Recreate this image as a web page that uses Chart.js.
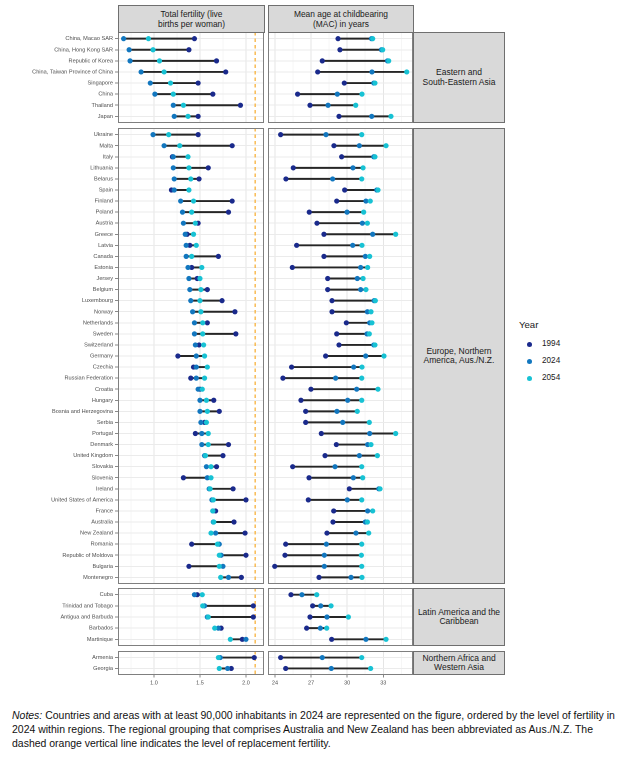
<!DOCTYPE html>
<html><head><meta charset="utf-8">
<script src="https://cdn.jsdelivr.net/npm/chart.js@4/dist/chart.umd.min.js"></script>
<style>
body{margin:0;background:#fff;width:627px;height:759px;position:relative;overflow:hidden;font-family:"Liberation Sans",Arial,sans-serif;}
canvas{position:absolute}
.strip{position:absolute;background:#d9d9d9;border:1px solid #6f6f6f;box-sizing:border-box;display:flex;align-items:center;justify-content:center;text-align:center;color:#1a1a1a}
.note{position:absolute;left:12px;white-space:nowrap;color:#111;line-height:14px}
.lg{position:absolute;white-space:nowrap;color:#1a1a1a}
.dot{position:absolute;width:5px;height:5px;border-radius:50%}
</style></head><body>
<script>
// ---------------- DATA ----------------
const yearLabels = ["1994", "2024", "2054"];
const replacementFertility = 2.1;

const eaCountries = ["China, Macao SAR","China, Hong Kong SAR","Republic of Korea","China, Taiwan Province of China","Singapore","China","Thailand","Japan"];
const eaTfr1994 = [1.44,1.38,1.68,1.78,1.48,1.64,1.94,1.48];
const eaTfr2024 = [0.67,0.73,0.74,0.86,0.96,1.01,1.21,1.22];
const eaTfr2054 = [0.94,0.99,1.06,1.11,1.18,1.21,1.32,1.37];
const eaMac1994 = [29.24,29.40,27.93,27.55,29.76,25.88,26.91,29.32];
const eaMac2024 = [32.02,32.85,33.35,32.06,32.21,29.18,28.41,32.04];
const eaMac2054 = [32.12,32.95,33.45,34.95,32.31,31.23,30.71,33.64];

const euCountries = ["Ukraine","Malta","Italy","Lithuania","Belarus","Spain","Finland","Poland","Austria","Greece","Latvia","Canada","Estonia","Jersey","Belgium","Luxembourg","Norway","Netherlands","Sweden","Switzerland","Germany","Czechia","Russian Federation","Croatia","Hungary","Bosnia and Herzegovina","Serbia","Portugal","Denmark","United Kingdom","Slovakia","Slovenia","Ireland","United States of America","France","Australia","New Zealand","Romania","Republic of Moldova","Bulgaria","Montenegro"];
const euTfr1994 = [1.48,1.85,1.20,1.59,1.49,1.19,1.85,1.81,1.48,1.36,1.39,1.70,1.41,1.47,1.58,1.74,1.88,1.58,1.89,1.49,1.26,1.43,1.40,1.50,1.65,1.71,1.55,1.45,1.81,1.75,1.68,1.32,1.86,2.00,1.67,1.87,1.99,1.41,2.00,1.38,1.95];
const euTfr2024 = [0.99,1.11,1.21,1.21,1.22,1.22,1.29,1.31,1.32,1.34,1.35,1.35,1.37,1.38,1.39,1.40,1.42,1.44,1.44,1.45,1.46,1.46,1.46,1.48,1.50,1.50,1.51,1.52,1.52,1.55,1.57,1.58,1.60,1.63,1.64,1.645,1.67,1.71,1.73,1.75,1.81];
const euTfr2054 = [1.16,1.28,1.37,1.38,1.40,1.38,1.43,1.41,1.45,1.43,1.46,1.41,1.52,1.50,1.51,1.50,1.51,1.53,1.53,1.54,1.55,1.58,1.55,1.525,1.57,1.58,1.57,1.59,1.59,1.56,1.62,1.62,1.61,1.645,1.64,1.65,1.62,1.69,1.71,1.71,1.725];
const euMac1994 = [24.47,28.90,29.54,25.52,24.91,29.79,29.13,26.85,27.49,28.07,25.80,28.07,25.44,28.38,28.38,28.74,28.74,29.93,29.13,29.32,28.21,25.38,24.66,26.99,26.16,26.55,26.55,27.85,29.10,28.16,25.47,26.83,30.18,26.77,28.88,28.82,28.32,24.89,24.83,23.98,27.66];
const euMac2024 = [28.24,31.01,32.21,30.48,28.79,32.46,31.56,29.99,31.26,32.12,30.46,31.51,31.12,30.84,31.12,32.24,31.68,31.87,31.65,32.21,31.54,30.54,29.04,30.79,30.04,29.15,29.63,31.87,31.70,31.01,28.99,30.51,32.63,30.01,31.70,31.51,30.73,28.27,28.10,28.10,30.32];
const euMac2054 = [31.21,33.23,32.31,31.32,31.21,32.56,31.92,31.37,31.68,34.03,31.23,31.87,31.70,31.32,31.56,32.34,31.98,32.06,31.84,32.31,33.06,31.23,31.21,32.56,31.21,30.84,31.84,34.03,31.98,32.51,31.21,31.29,32.73,31.21,32.12,31.68,31.79,31.21,31.18,31.21,31.23];

const laCountries = ["Cuba","Trinidad and Tobago","Antigua and Barbuda","Barbados","Martinique"];
const laTfr1994 = [1.47,2.08,2.08,1.73,1.96];
const laTfr2024 = [1.44,1.55,1.58,1.70,2.00];
const laTfr2054 = [1.525,1.53,1.59,1.66,1.83];
const laMac1994 = [25.33,27.13,26.91,26.63,28.71];
const laMac2024 = [26.24,27.80,28.32,27.77,31.56];
const laMac2054 = [27.47,28.66,30.10,28.30,33.23];

const nwCountries = ["Armenia","Georgia"];
const nwTfr1994 = [2.09,1.84];
const nwTfr2024 = [1.72,1.80];
const nwTfr2054 = [1.70,1.71];
const nwMac1994 = [24.47,24.89];
const nwMac2024 = [27.93,28.68];
const nwMac2054 = [31.21,31.95];

const regionNames = [["Eastern and","South-Eastern Asia"],["Europe, Northern","America, Aus./N.Z."],["Latin America and the","Caribbean"],["Northern Africa and","Western Asia"]];
const columnTitles = [["Total fertility (live","births per woman)"],["Mean age at childbearing","(MAC) in years"]];
const tfrTicks = [1.0, 1.5, 2.0];
const macTicks = [24, 27, 30, 33];

// ---------------- LAYOUT / STYLE ----------------
const facets = [
  {names: eaCountries, tfr: [eaTfr1994, eaTfr2024, eaTfr2054], mac: [eaMac1994, eaMac2024, eaMac2054]},
  {names: euCountries, tfr: [euTfr1994, euTfr2024, euTfr2054], mac: [euMac1994, euMac2024, euMac2054]},
  {names: laCountries, tfr: [laTfr1994, laTfr2024, laTfr2054], mac: [laMac1994, laMac2024, laMac2054]},
  {names: nwCountries, tfr: [nwTfr1994, nwTfr2024, nwTfr2054], mac: [nwMac1994, nwMac2024, nwMac2054]}
];
const boxes = [{top:32,h:91},{top:128,h:456},{top:588,h:58},{top:651,h:24}];
const COLORS = ["#1a2a8c", "#1277bf", "#17c2d4"];
const SEG = "#262626";
const ORANGE = "#f7b13a";
const FONT = "'Liberation Sans', Arial, sans-serif";
Chart.defaults.font.family = FONT;

const frame = {id:'frame', afterDraw(chart){
  const {ctx, chartArea:a} = chart;
  ctx.save(); ctx.strokeStyle = '#7f7f7f'; ctx.lineWidth = 1;
  ctx.strokeRect(a.left + 0.5, a.top + 0.5, a.right - a.left - 1, a.bottom - a.top - 1);
  ctx.restore();
}};

function isMajor(v, list){ return list.some(t => Math.abs(t - v) < 1e-6); }

function makePanel(fi, isLeft){
  const f = facets[fi], b = boxes[fi];
  const bottom = fi === facets.length - 1;
  const axisH = bottom ? 16 : 0;
  const cx = isLeft ? 0 : 268, cw = isLeft ? 264 : 145, ch = b.h + axisH;
  const cv = document.createElement('canvas');
  cv.style.left = cx + 'px'; cv.style.top = b.top + 'px';
  cv.style.width = cw + 'px'; cv.style.height = ch + 'px';
  cv.width = cw; cv.height = ch;
  document.body.appendChild(cv);
  const n = f.names.length;
  const vals = isLeft ? f.tfr : f.mac;
  const idx = f.names.map((_, i) => i);
  const majors = isLeft ? tfrTicks : macTicks;
  const datasets = [
    {type:'bar', indexAxis:'y', order:5, backgroundColor: SEG, barThickness: 1.3,
     data: idx.map(i => ({y: i, x: [Math.min(vals[0][i], vals[1][i], vals[2][i]), Math.max(vals[0][i], vals[1][i], vals[2][i])]}))}
  ];
  vals.forEach((arr, k) => datasets.push({
    type:'scatter', label: yearLabels[k], order: 3 - k,
    data: idx.map(i => ({x: arr[i], y: i})),
    pointRadius: 2.6, pointBackgroundColor: COLORS[k], pointBorderWidth: 0, pointHoverRadius: 2.6
  }));
  if (isLeft) datasets.push({type:'scatter', order:4, showLine:true, borderColor: ORANGE, borderWidth:1.3, borderDash:[3.5,3], pointRadius:0,
    data:[{x: replacementFertility, y: -0.6}, {x: replacementFertility, y: n - 0.4}]});
  new Chart(cv, {
    type: 'scatter',
    data: {datasets},
    options: {
      responsive:false, animation:false, devicePixelRatio:2, events:[],
      layout:{padding:0, autoPadding:false},
      plugins:{legend:{display:false}, tooltip:{enabled:false}},
      scales:{
        x:{type:'linear', position:'bottom', min: isLeft ? 0.609 : 23.42, max: isLeft ? 2.196 : 35.47,
          offset:false, beginAtZero:false,
          border:{display:false},
          grid:{offset:false, color: c => (c.tick && isMajor(c.tick.value, majors)) ? '#e3e3e3' : '#f0f0f0',
                lineWidth: c => (c.tick && isMajor(c.tick.value, majors)) ? 0.9 : 0.6,
                drawTicks: bottom, tickLength: 2.5, tickWidth: 0.7,
                tickColor: c => (c.tick && isMajor(c.tick.value, majors)) ? '#555' : 'rgba(0,0,0,0)'},
          ticks:{display: bottom, stepSize: isLeft ? 0.25 : 1.5, includeBounds:false, autoSkip:false, maxRotation:0, padding:2,
                 font:{size:5.5}, color:'#4d4d4d',
                 callback: v => isMajor(v, majors) ? (isLeft ? v.toFixed(1) : String(v)) : ''},
          afterFit: s => { s.height = axisH; s.paddingLeft = 0; s.paddingRight = 0; }
        },
        y:{type:'linear', position:'left', min:-0.6, max:n - 0.4, reverse:true, offset:false,
          border:{display:false},
          grid:{offset:false, color:'#ebebeb', lineWidth:0.9, drawTicks: isLeft, tickLength:3, tickWidth:0.7, tickColor:'#555'},
          ticks:{display: isLeft, stepSize:1, includeBounds:false, autoSkip:false, padding:2,
                 font:{size:5.6}, color:'#4d4d4d',
                 callback: v => Number.isInteger(v) ? f.names[v] : ''},
          afterFit: s => { s.width = isLeft ? 118 : 0; s.paddingTop = 0; s.paddingBottom = 0; }
        }
      }
    },
    plugins:[frame]
  });
}

facets.forEach((_, i) => { makePanel(i, true); makePanel(i, false); });

function strip(x, y, w, h, lines, fs, lh){
  const d = document.createElement('div');
  d.className = 'strip';
  d.style.left = x + 'px'; d.style.top = y + 'px'; d.style.width = w + 'px'; d.style.height = h + 'px';
  d.style.fontSize = fs + 'px'; d.style.lineHeight = lh + 'px';
  d.innerHTML = lines.join('<br>');
  document.body.appendChild(d);
}
strip(118, 5, 147, 28, columnTitles[0], 8.4, 10);
strip(268, 5, 146, 28, columnTitles[1], 8.4, 10);
boxes.forEach((b, i) => strip(413, b.top, 92, b.h, regionNames[i], 8.5, 9.5));

// legend
const lgTitle = document.createElement('div');
lgTitle.className = 'lg'; lgTitle.style.left = '519px'; lgTitle.style.top = '319px'; lgTitle.style.fontSize = '9.6px';
lgTitle.textContent = 'Year'; document.body.appendChild(lgTitle);
yearLabels.forEach((yl, k) => {
  const yc = 344 + k * 17;
  const d = document.createElement('div'); d.className = 'dot';
  d.style.left = (529 - 2.5) + 'px'; d.style.top = (yc - 2.5) + 'px'; d.style.background = COLORS[k];
  document.body.appendChild(d);
  const t = document.createElement('div'); t.className = 'lg';
  t.style.left = '542px'; t.style.top = (yc - 5) + 'px'; t.style.fontSize = '8.2px'; t.style.lineHeight = '10px';
  t.textContent = yl; document.body.appendChild(t);
});

// notes
const noteLines = [
  "<i>Notes:</i> Countries and areas with at least 90,000 inhabitants in 2024 are represented on the figure, ordered by the level of fertility in",
  "2024 within regions. The regional grouping that comprises Australia and New Zealand has been abbreviated as Aus./N.Z. The",
  "dashed orange vertical line indicates the level of replacement fertility."
];
const noteEls = noteLines.map((l, i) => {
  const d = document.createElement('div'); d.className = 'note';
  d.style.top = (709 + i * 14) + 'px'; d.style.fontSize = '10px'; d.innerHTML = l;
  document.body.appendChild(d); return d;
});
const w0 = noteEls[0].getBoundingClientRect().width;
const fs = 10 * 604 / w0;
noteEls.forEach(d => d.style.fontSize = fs + 'px');
</script>
</body></html>
